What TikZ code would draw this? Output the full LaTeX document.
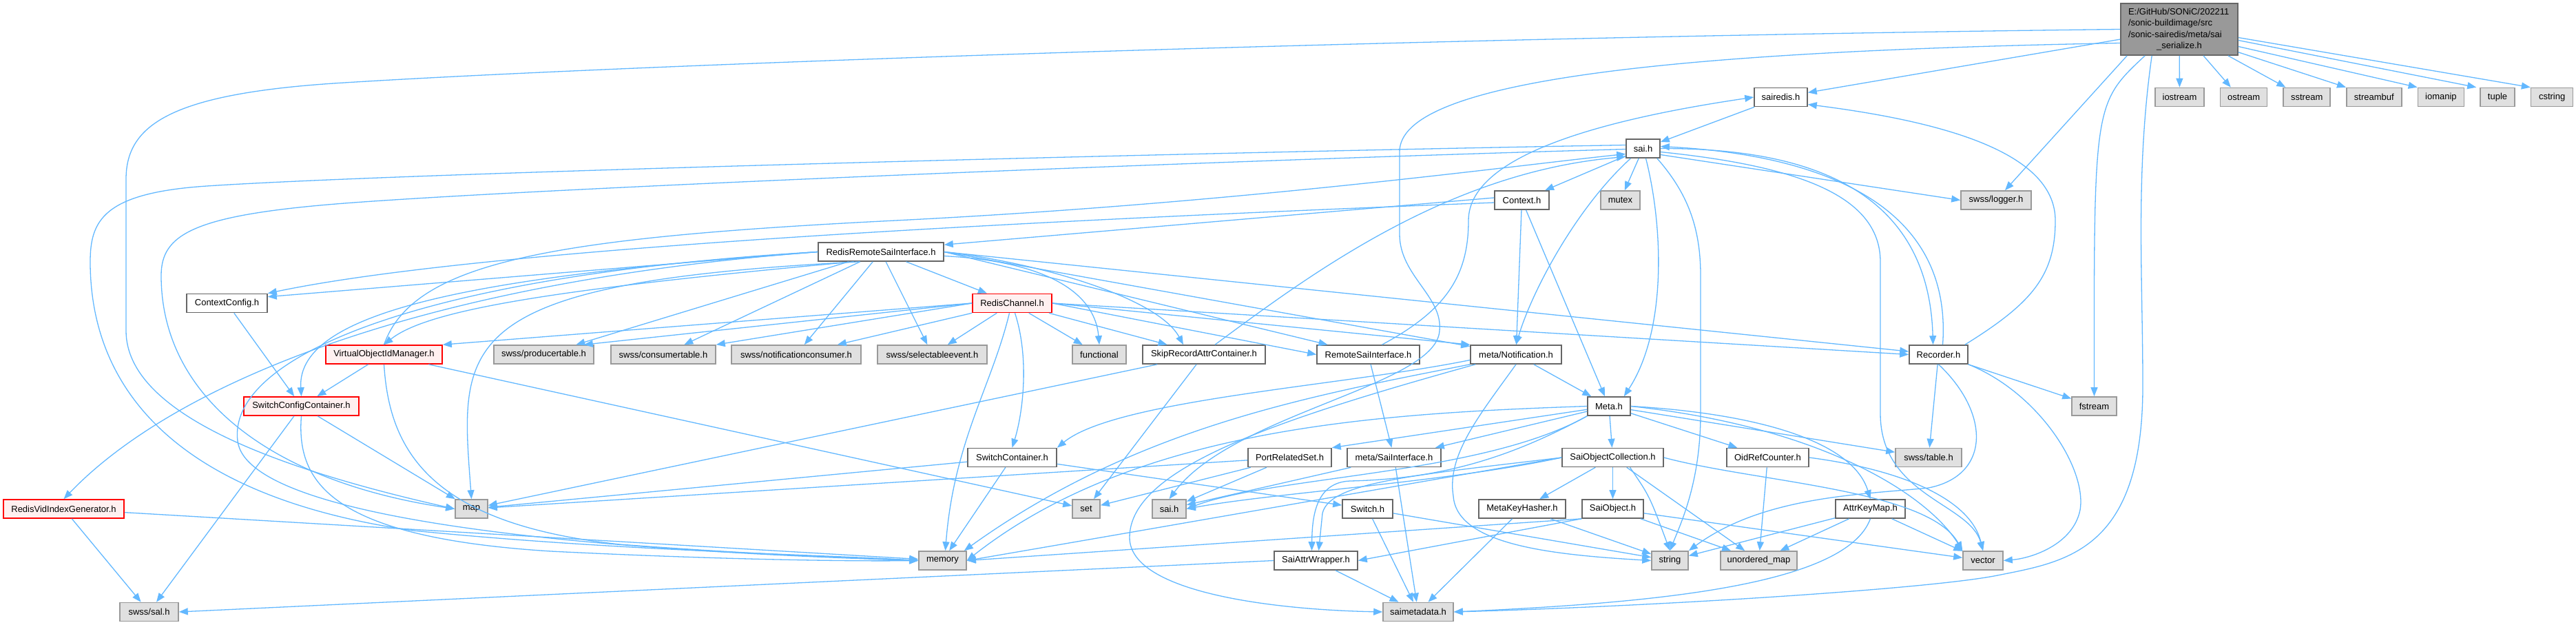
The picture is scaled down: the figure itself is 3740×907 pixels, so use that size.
\documentclass[tikz,border=0pt]{standalone}
\usepackage{fontspec}
\setmainfont{Liberation Sans}
\usetikzlibrary{positioning,arrows.meta}
\definecolor{edgeblue}{HTML}{63B8FF}
\definecolor{docline}{HTML}{666666}
\definecolor{sysline}{HTML}{999999}
\definecolor{sysfill}{HTML}{E0E0E0}
\definecolor{mainfill}{HTML}{999999}
\definecolor{trufill}{HTML}{FFF0F0}
\definecolor{truline}{HTML}{FF0000}

\begin{document}
\begin{tikzpicture}[x=1pt, y=-1pt, every node/.style={font=\fontsize{13}{16.2}\selectfont},
  docnode/.style={draw=docline, fill=white, line width=1.6pt, inner sep=0pt, minimum height=27pt},
  sysnode/.style={draw=sysline, fill=sysfill, line width=1.6pt, inner sep=0pt, minimum height=27pt},
  trunode/.style={draw=truline, fill=trufill, line width=1.6pt, inner sep=0pt, minimum height=27pt},
  dep/.style={draw=edgeblue, line width=1.3pt, -{Triangle[length=13pt,width=10pt]}}]
  \useasboundingbox (0,0) rectangle (3740,907);

  \node[docnode, fill=mainfill, inner xsep=11pt, text width=148pt, minimum height=75pt, align=left] (main) at (3164,42.5) {E:/GitHub/SONiC/202211\\/sonic-buildimage/src\\/sonic-sairedis/meta/sai\\\makebox[148pt][c]{\_serialize.h}};
  \node[sysnode, minimum width=71pt] (iostream) at (3164.5,141) {iostream};
  \node[sysnode, minimum width=68pt, right=22pt of iostream] (ostream) {ostream};
  \node[sysnode, minimum width=68pt, right=22pt of ostream] (sstream) {sstream};
  \node[sysnode, minimum width=80pt, right=22pt of sstream] (streambuf) {streambuf};
  \node[sysnode, minimum width=67pt, right=22pt of streambuf] (iomanip) {iomanip};
  \node[sysnode, minimum width=50pt, right=22pt of iomanip] (tuple) {tuple};
  \node[sysnode, minimum width=61pt, right=22pt of tuple] (cstring) {cstring};

  \node[docnode, minimum width=77pt] (sairedis) at (2585.5,141) {sairedis.h};
  \node[docnode, minimum width=49pt] (saih) at (2385.5,215.5) {sai.h};
  \node[docnode, minimum width=79pt] (context) at (2209.5,290.5) {Context.h};
  \node[sysnode, minimum width=57pt] (mutex) at (2352.5,290.5) {mutex};
  \node[sysnode, minimum width=102pt] (logger) at (2898,290.5) {swss/logger.h};
  \node[docnode, minimum width=182pt] (rrsi) at (1279,365.5) {RedisRemoteSaiInterface.h};
  \node[docnode, minimum width=117pt] (ctxcfg) at (329.5,440) {ContextConfig.h};
  \node[trunode, minimum width=115pt] (rchan) at (1469.5,440) {RedisChannel.h};
  \node[trunode, minimum width=169pt] (voidm) at (557.5,514.5) {VirtualObjectIdManager.h};
  \node[sysnode, minimum width=145pt] (prodtab) at (789.5,514.5) {swss/producertable.h};
  \node[sysnode, minimum width=152pt] (constab) at (963,514.5) {swss/consumertable.h};
  \node[sysnode, minimum width=188pt] (notifcons) at (1156,514.5) {swss/notificationconsumer.h};
  \node[sysnode, minimum width=159pt] (selev) at (1353.5,514.5) {swss/selectableevent.h};
  \node[sysnode, minimum width=78pt] (functional) at (1596,514.5) {functional};
  \node[docnode, minimum width=178pt] (skiprec) at (1748,514.5) {SkipRecordAttrContainer.h};
  \node[docnode, minimum width=149pt] (remsai) at (1986.5,514.5) {RemoteSaiInterface.h};
  \node[docnode, minimum width=132pt] (notif) at (2201,514.5) {meta/Notification.h};
  \node[docnode, minimum width=85pt] (recorder) at (2814.5,514.5) {Recorder.h};
  \node[trunode, minimum width=167pt] (swcfg) at (437.5,589.5) {SwitchConfigContainer.h};
  \node[docnode, minimum width=62pt] (metah) at (2336,589.5) {Meta.h};
  \node[sysnode, minimum width=65pt] (fstream) at (3040.5,589.5) {fstream};
  \node[docnode, minimum width=129pt] (swcont) at (1469.5,664) {SwitchContainer.h};
  \node[docnode, minimum width=121pt] (portrel) at (1872.5,664) {PortRelatedSet.h};
  \node[docnode, minimum width=136pt] (msaiif) at (2024,664) {meta/SaiInterface.h};
  \node[docnode, minimum width=147pt] (soc) at (2341.5,664) {SaiObjectCollection.h};
  \node[docnode, minimum width=119pt] (oidref) at (2566.5,664) {OidRefCounter.h};
  \node[sysnode, minimum width=96pt] (table) at (2800,664) {swss/table.h};
  \node[trunode, minimum width=175pt] (rvid) at (92.5,738.5) {RedisVidIndexGenerator.h};
  \node[sysnode, minimum width=47pt] (map) at (684.5,738.5) {map};
  \node[sysnode, minimum width=40pt] (set) at (1577,738.5) {set};
  \node[sysnode, minimum width=49pt] (saig) at (1697.5,738.5) {sai.h};
  \node[docnode, minimum width=73pt] (switchh) at (1985.5,738.5) {Switch.h};
  \node[docnode, minimum width=126pt] (mkh) at (2210,738.5) {MetaKeyHasher.h};
  \node[docnode, minimum width=89pt] (saiobj) at (2341.5,738.5) {SaiObject.h};
  \node[docnode, minimum width=101pt] (akm) at (2715.5,738.5) {AttrKeyMap.h};
  \node[sysnode, minimum width=69pt] (memory) at (1368.5,813.5) {memory};
  \node[docnode, minimum width=121pt] (saw) at (1910.5,813.5) {SaiAttrWrapper.h};
  \node[sysnode, minimum width=53pt] (string) at (2424.5,813.5) {string};
  \node[sysnode, minimum width=111pt] (umap) at (2553.5,813.5) {unordered\_map};
  \node[sysnode, minimum width=58pt] (vector) at (2879,813.5) {vector};
  \node[sysnode, minimum width=85pt] (sal) at (216.5,888) {swss/sal.h};
  \node[sysnode, minimum width=102pt] (saimeta) at (2059,888) {saimetadata.h};

  \draw[dep] (main) -- (iostream);
  \draw[dep] ([xshift=35pt]main.south) -- ([xshift=16pt]ostream.north west);
  \draw[dep] ([xshift=-15pt]main.south east) -- ([xshift=4pt]sstream.north west);
  \draw[dep] ([yshift=5pt]main.south east) -- (streambuf.north west);
  \draw[dep] ([yshift=-25pt]main.east) -- (iomanip.north west);
  \draw[dep] ([yshift=-16pt]main.east) -- ([xshift=-5pt]tuple.north west);
  \draw[dep] ([yshift=-12pt]main.east) -- (cstring.north west);
  \draw[dep] (main) -- (sairedis);
  \draw[dep] ([xshift=10pt]main.south west) -- (logger);
  \draw[dep] ([xshift=36pt]main.south west) .. controls (3040,150) .. (fstream.north);
  \draw[dep] ([xshift=46pt]main.south west) .. controls (3100,250) and (3111,400) .. (3111,560) .. controls (3111,800) and (3000,815) .. (2900,835) .. controls (2800,855) and (2400,880) .. (saimeta.east);
  \draw[dep] (main.west) .. controls (2000,55) and (900,95) .. (500,120) .. controls (250,135) and (183,180) .. (183,260) -- (183,480) .. controls (183,600) and (400,680) .. (map.west);
  \draw[dep] ([yshift=-20pt]main.west) .. controls (2400,75) and (2032,120) .. (2032,220) -- (2032,340) .. controls (2032,400) and (2095,430) .. (2090,480) .. controls (2085,560) and (1790,600) .. (saig.north);

  \draw[dep] (sairedis) -- (saih);
  \draw[dep] (saih) -- (context);
  \draw[dep] (saih) -- (mutex);
  \draw[dep] ([xshift=-18pt]saih.south) .. controls (2290,300) and (2225,420) .. (notif.north);
  \draw[dep] ([xshift=4pt]saih.south) .. controls (2415,330) and (2420,480) .. ([xshift=-10pt]metah.north east);
  \draw[dep] ([xshift=-5pt]saih.south east) .. controls (2450,280) and (2469,330) .. (2469,400) -- (2469,600) .. controls (2469,700) and (2440,760) .. (string.north);
  \draw[dep] ([yshift=-9pt]saih.east) -- (logger.west);
  \draw[dep] (saih.east) .. controls (2600,215) and (2800,260) .. ([xshift=-8pt]recorder.north);
  \draw[dep] ([yshift=-5pt]saih.east) .. controls (2600,240) and (2730,280) .. (2730,380) -- (2730,600) .. controls (2730,720) and (2860,730) .. (vector.north);
  \draw[dep] ([yshift=5pt]saih.west) .. controls (1800,220) and (600,250) .. (300,270) .. controls (150,280) and (131,320) .. (131,380) .. controls (131,560) and (250,720) .. (600,770) .. controls (900,800) and (1200,805) .. (memory.west);
  \draw[dep] ([yshift=-1pt]saih.west) .. controls (1800,232) and (800,272) .. (500,295) .. controls (280,312) and (234,340) .. (234,400) .. controls (234,580) and (400,700) .. (map.west);

  \draw[dep] ([xshift=-5pt]recorder.north east) .. controls (2950,440) and (2984,400) .. (2984,320) .. controls (2984,230) and (2850,180) .. (sairedis.-15);
  \draw[dep] ([xshift=6pt]recorder.north) .. controls (2835,300) and (2650,225) .. ([yshift=3pt]saih.east);
  \draw[dep] (recorder) -- (fstream);
  \draw[dep] (recorder) -- (table);
  \draw[dep] (recorder.south east) .. controls (2960,570) and (3030,680) .. (3020,740) .. controls (3010,790) and (2950,810) .. (vector.east);
  \draw[dep] (recorder.south) .. controls (2890,600) and (2890,690) .. (2800,708) .. controls (2700,718) and (2560,720) .. (string.north east);

  \draw[dep] (context.175) -- ([yshift=-4pt]rrsi.north east);
  \draw[dep] (context.185) .. controls (1500,320) and (700,360) .. (ctxcfg.north east);
  \draw[dep] (context) -- (notif);
  \draw[dep] (context) -- (metah);

  \draw[dep] (rrsi.west) -- ([yshift=-5pt]ctxcfg.north east);
  \draw[dep] (rrsi.west) .. controls (700,400) and (430,450) .. (swcfg.north);
  \draw[dep] (rrsi.west) .. controls (600,410) and (250,560) .. (rvid.north);
  \draw[dep] (rrsi.west) .. controls (600,400) and (330,520) .. (345,640) .. controls (360,760) and (900,800) .. (memory.west);
  \draw[dep] (rrsi.200) .. controls (800,420) and (620,450) .. (voidm.north);
  \draw[dep] (rrsi.205) .. controls (650,410) and (668,500) .. (map.north);
  \draw[dep] (rrsi) -- (prodtab);
  \draw[dep] (rrsi) -- (constab);
  \draw[dep] (rrsi) -- (notifcons);
  \draw[dep] (rrsi) -- (selev);
  \draw[dep] (rrsi) -- (rchan);
  \draw[dep] ([yshift=-6pt]rrsi.east) .. controls (1530,380) and (1590,430) .. (functional.north);
  \draw[dep] (rrsi.east) .. controls (1500,380) and (1680,430) .. ([xshift=-30pt]skiprec.north);
  \draw[dep] (rrsi.east) -- (remsai);
  \draw[dep] (rrsi.east) -- (notif);
  \draw[dep] (rrsi.east) -- (recorder);

  \draw[dep] (rchan.west) -- (voidm.north east);
  \draw[dep] (rchan.west) -- ([xshift=-15pt]prodtab.north east);
  \draw[dep] (rchan.west) -- (constab.north east);
  \draw[dep] (rchan.south west) -- ([xshift=-35pt]notifcons.north east);
  \draw[dep] (rchan) -- (selev);
  \draw[dep] (rchan) -- (functional);
  \draw[dep] (rchan) -- (skiprec);
  \draw[dep] ([xshift=-4pt]rchan.south) .. controls (1440,560) and (1385,640) .. ([xshift=4pt]memory.north);
  \draw[dep] ([xshift=4pt]rchan.south) .. controls (1495,520) and (1485,600) .. (swcont.north);
  \draw[dep] (rchan.east) -- (remsai.west);
  \draw[dep] (rchan.east) -- (notif.north west);
  \draw[dep] (rchan.east) -- (recorder.west);

  \draw[dep] (ctxcfg) -- (swcfg);
  \draw[dep] (voidm.north) .. controls (600,380) and (800,345) .. (1300,320) .. controls (1800,295) and (2200,240) .. ([yshift=-8pt]saih.west);
  \draw[dep] (voidm) -- (swcfg);
  \draw[dep] (voidm.south) .. controls (565,650) and (620,760) .. (900,790) .. controls (1100,805) and (1250,810) .. (memory.west);
  \draw[dep] (voidm) -- (set);
  \draw[dep] (swcfg) -- (sal);
  \draw[dep] (swcfg) -- (map);
  \draw[dep] (swcfg.south) .. controls (430,700) and (480,780) .. (800,800) .. controls (1000,810) and (1200,815) .. (memory.west);
  \draw[dep] (rvid) -- (sal);
  \draw[dep] (rvid) -- (memory);

  \draw[dep] ([xshift=16pt]skiprec.north) .. controls (1900,400) and (2100,250) .. ([yshift=-12pt]saih.west);
  \draw[dep] (skiprec) -- (map);
  \draw[dep] (skiprec) -- (set);
  \draw[dep] ([xshift=20pt]remsai.north) .. controls (2100,450) and (2132,400) .. (2132,320) .. controls (2132,220) and (2350,170) .. (sairedis.west);
  \draw[dep] (remsai) -- (msaiif);

  \draw[dep] (notif) -- (metah);
  \draw[dep] (notif.south) .. controls (2150,600) and (2100,660) .. (2110,720) .. controls (2115,790) and (2250,805) .. (string.west);
  \draw[dep] ([yshift=-8pt]notif.west) .. controls (1950,560) and (1620,580) .. (swcont.north east);
  \draw[dep] (notif.south west) .. controls (1900,575) and (1650,620) .. ([xshift=-4pt]memory.north east);
  \draw[dep] ([xshift=8pt]notif.south west) .. controls (1850,610) and (1640,680) .. (1640,780) .. controls (1640,860) and (1850,885) .. (saimeta.west);

  \draw[dep] (metah) -- (portrel.north east);
  \draw[dep] (metah) -- (msaiif);
  \draw[dep] (metah) -- (soc);
  \draw[dep] (metah) -- (oidref);
  \draw[dep] (metah) -- (table);
  \draw[dep] (metah.east) .. controls (2550,600) and (2690,640) .. (akm.north);
  \draw[dep] (metah.east) .. controls (2650,620) and (2800,720) .. (vector.north west);
  \draw[dep] (metah.south west) .. controls (2200,660) and (2100,695) .. (1960,698) .. controls (1910,700) and (1905,750) .. ([xshift=-6pt]saw.north);
  \draw[dep] (metah.south west) .. controls (2150,690) and (1850,690) .. (saig.east);
  \draw[dep] (metah.west) .. controls (2000,600) and (1650,620) .. (memory.east);

  \draw[dep] (soc) -- (mkh);
  \draw[dep] (soc) -- (saiobj);
  \draw[dep] ([xshift=25pt]soc.south) .. controls (2395,720) .. (string.north);
  \draw[dep] (soc) -- (umap);
  \draw[dep] (soc.west) .. controls (2050,690) and (1930,700) .. (1920,745) -- ([xshift=4pt]saw.north);
  \draw[dep] (soc.west) .. controls (2100,700) and (1850,715) .. (saig.east);
  \draw[dep] (soc.west) .. controls (2000,710) and (1600,780) .. (memory.east);
  \draw[dep] (soc.east) .. controls (2550,700) and (2800,710) .. (vector.north west);

  \draw[dep] (saiobj.south west) -- (saw.east);
  \draw[dep] (saiobj.south west) -- (memory.east);
  \draw[dep] (saiobj) -- (umap);
  \draw[dep] (saiobj) -- (vector);
  \draw[dep] (mkh) -- (saimeta);
  \draw[dep] (mkh) -- (string);
  \draw[dep] (switchh) -- (saimeta);
  \draw[dep] (switchh) -- (string);
  \draw[dep] (msaiif) -- (saimeta);
  \draw[dep] (msaiif) -- (saig);
  \draw[dep] (oidref) -- (umap);
  \draw[dep] (oidref.east) .. controls (2750,680) and (2860,720) .. (vector.north);
  \draw[dep] (akm) -- (string);
  \draw[dep] (akm) -- (umap);
  \draw[dep] (akm) -- (vector);
  \draw[dep] (akm.south) .. controls (2680,850) and (2400,875) .. (saimeta.east);
  \draw[dep] (saw) -- (saimeta);
  \draw[dep] (saw.west) -- (sal.east);
  \draw[dep] (portrel) -- (saig);
  \draw[dep] (portrel) -- (set);
  \draw[dep] (portrel) -- (map);
  \draw[dep] (swcont) -- (map);
  \draw[dep] (swcont) -- (memory);
  \draw[dep] (swcont) -- (switchh);
\end{tikzpicture}
\end{document}
